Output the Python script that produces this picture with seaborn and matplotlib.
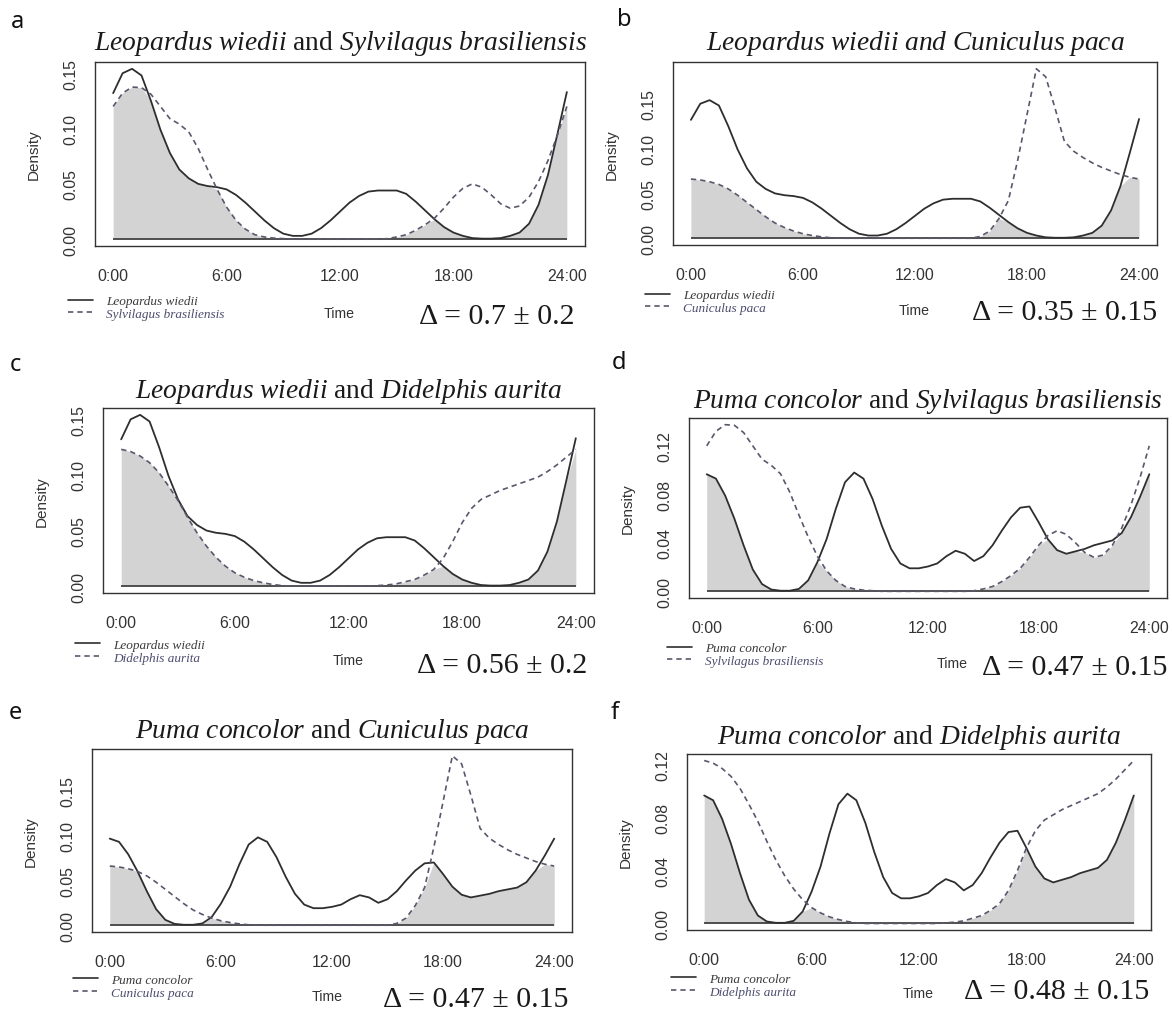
import numpy as np
import pandas as pd
import matplotlib
matplotlib.use("Agg")
import matplotlib.pyplot as plt
import seaborn as sns
from matplotlib.lines import Line2D
from matplotlib.font_manager import FontProperties

# ---------------- data (density per half hour, 0:00 .. 24:00) ----------------
hours = np.arange(0, 24.5, 0.5)

leopardus_wiedii = [0.132, 0.150, 0.154, 0.148, 0.125, 0.099, 0.078, 0.063, 0.055, 0.050,
                    0.048, 0.047, 0.045, 0.040, 0.033, 0.025, 0.017, 0.010, 0.005, 0.003,
                    0.003, 0.005, 0.010, 0.017, 0.025, 0.033, 0.039, 0.043, 0.044, 0.044,
                    0.044, 0.041, 0.034, 0.026, 0.018, 0.011, 0.006, 0.003, 0.001, 0.0005,
                    0.0005, 0.001, 0.003, 0.006, 0.014, 0.031, 0.058, 0.095, 0.133]

sylvilagus_brasiliensis = [0.120, 0.132, 0.1375, 0.137, 0.131, 0.120, 0.109, 0.104, 0.097, 0.082,
                           0.063, 0.045, 0.029, 0.017, 0.009, 0.004, 0.002, 0.001, 0.0005, 0.0,
                           0.0, 0.0, 0.0, 0.0, 0.0, 0.0, 0.0, 0.0, 0.0, 0.0005,
                           0.002, 0.004, 0.008, 0.013, 0.019, 0.028, 0.038, 0.046, 0.050, 0.047,
                           0.040, 0.032, 0.028, 0.030, 0.038, 0.052, 0.071, 0.094, 0.120]

cuniculus_paca = [0.066, 0.065, 0.063, 0.060, 0.055, 0.048, 0.040, 0.032, 0.024, 0.017,
                  0.012, 0.008, 0.005, 0.003, 0.0015, 0.0005, 0.0, 0.0, 0.0, 0.0,
                  0.0, 0.0, 0.0, 0.0, 0.0, 0.0, 0.0, 0.0, 0.0, 0.0,
                  0.0, 0.002, 0.008, 0.022, 0.042, 0.087, 0.138, 0.189, 0.180, 0.145,
                  0.108, 0.097, 0.090, 0.084, 0.079, 0.075, 0.071, 0.068, 0.066]

didelphis_aurita = [0.123, 0.121, 0.117, 0.111, 0.102, 0.090, 0.077, 0.062, 0.048, 0.036,
                    0.026, 0.018, 0.012, 0.008, 0.005, 0.003, 0.0015, 0.0005, 0.0, 0.0,
                    0.0, 0.0, 0.0, 0.0, 0.0, 0.0, 0.0, 0.0005, 0.001, 0.002,
                    0.004, 0.006, 0.010, 0.015, 0.025, 0.040, 0.057, 0.070, 0.078, 0.082,
                    0.086, 0.089, 0.092, 0.095, 0.098, 0.103, 0.109, 0.116, 0.123]

puma_concolor = [0.0966, 0.093, 0.079, 0.060, 0.038, 0.018, 0.006, 0.0015, 0.0005, 0.0005,
                 0.002, 0.009, 0.024, 0.043, 0.068, 0.090, 0.098, 0.093, 0.076, 0.054,
                 0.035, 0.023, 0.019, 0.019, 0.0205, 0.023, 0.029, 0.0335, 0.031, 0.025,
                 0.029, 0.038, 0.050, 0.061, 0.069, 0.070, 0.057, 0.043, 0.034, 0.031,
                 0.033, 0.035, 0.038, 0.040, 0.042, 0.048, 0.061, 0.078, 0.0966]

time_ticks = [0, 6, 12, 18, 24]
time_labels = ["0:00", "6:00", "12:00", "18:00", "24:00"]

species = {
    "Leopardus wiedii": leopardus_wiedii,
    "Sylvilagus brasiliensis": sylvilagus_brasiliensis,
    "Cuniculus paca": cuniculus_paca,
    "Didelphis aurita": didelphis_aurita,
    "Puma concolor": puma_concolor,
}

panel_letters = ["a", "b", "c", "d", "e", "f"]
panel_pairs = [("Leopardus wiedii", "Sylvilagus brasiliensis"),
               ("Leopardus wiedii", "Cuniculus paca"),
               ("Leopardus wiedii", "Didelphis aurita"),
               ("Puma concolor", "Sylvilagus brasiliensis"),
               ("Puma concolor", "Cuniculus paca"),
               ("Puma concolor", "Didelphis aurita")]
panel_titles = [r"$\mathit{Leopardus\ wiedii}$ and $\mathit{Sylvilagus\ brasiliensis}$",
                r"$\mathit{Leopardus\ wiedii\ and\ Cuniculus\ paca}$",
                r"$\mathit{Leopardus\ wiedii}$ and $\mathit{Didelphis\ aurita}$",
                r"$\mathit{Puma\ concolor}$ and $\mathit{Sylvilagus\ brasiliensis}$",
                r"$\mathit{Puma\ concolor}$ and $\mathit{Cuniculus\ paca}$",
                r"$\mathit{Puma\ concolor}$ and $\mathit{Didelphis\ aurita}$"]
overlap_labels = ["Δ = 0.7 ± 0.2", "Δ = 0.35 ± 0.15", "Δ = 0.56 ± 0.2",
                  "Δ = 0.47 ± 0.15", "Δ = 0.47 ± 0.15", "Δ = 0.48 ± 0.15"]
ytick_sets = ["05", "05", "05", "02", "05", "02"]

# ---------------- layout (pixels in a 1172 x 1012 image) ----------------
W, H = 1172, 1012
boxes = [(95, 63, 585, 247), (673, 63, 1157, 246),
         (103, 409, 594, 594), (689, 419, 1167, 599),
         (92, 750, 572, 933), (687, 755, 1151, 931)]
letter_pos = [(18, 22), (624, 20), (15, 365), (619, 363), (15, 713), (615, 713)]
delta_pos = [(497, 317), (1065, 313), (502, 666), (1075, 668), (476, 1000), (1057, 992)]
time_pos = [(339, 315), (914, 312), (348, 662), (952, 665), (327, 998), (918, 995)]
legend_pos = [(68, 308.5), (645, 302.5), (75, 652), (667, 655.5), (73, 987), (671, 986)]
title_pad = [9.5, 9.5, 8.0, 8.0, 8.5, 8.0]

sns.set_theme(style="white")
plt.rcParams["font.family"] = ["Liberation Sans", "DejaVu Sans"]
plt.rcParams["mathtext.fontset"] = "custom"
plt.rcParams["mathtext.it"] = "Liberation Serif:italic"
plt.rcParams["mathtext.rm"] = "Liberation Serif"

SOLID = "#2e2e2e"
DASH = "#58586c"
FILL = "#d3d3d3"

fig = plt.figure(figsize=(W / 100, H / 100), dpi=100)
fig.patch.set_facecolor("white")


def fx(x):
    return x / W


def fy(y):
    return 1 - y / H


for i in range(6):
    l, t, r, b = boxes[i]
    ax = fig.add_axes([fx(l), fy(b), (r - l) / W, (b - t) / H])
    pred_name, prey_name = panel_pairs[i]
    pred = np.array(species[pred_name])
    prey = np.array(species[prey_name])

    ymax = max(pred.max(), prey.max())
    ax.set_xlim(-0.04 * 24, 24 * 1.04)
    ax.set_ylim(-0.04 * ymax, 1.04 * ymax)

    ax.fill_between(hours, 0, np.minimum(pred, prey), color=FILL, lw=0, zorder=1)
    ax.hlines(0, hours[0], hours[-1], color="#444444", lw=1.3, zorder=2)
    sns.lineplot(x=hours, y=pred, ax=ax, color=SOLID, lw=1.3, zorder=3,
                 solid_joinstyle="round", solid_capstyle="round")
    sns.lineplot(x=hours, y=prey, ax=ax, color=DASH, lw=1.2, zorder=3,
                 linestyle=(0, (3.2, 2.4)), dash_joinstyle="round")

    # axes styling (R-like)
    for s in ax.spines.values():
        s.set_color("#333333")
        s.set_linewidth(1.0)
        s.set_visible(True)
    ax.set_facecolor("white")
    ax.grid(False)
    ax.tick_params(axis="both", direction="out", length=5.8, width=0.9,
                   color="#333333", labelcolor="#333333", labelsize=11.4)
    ax.tick_params(axis="x", pad=10)
    ax.tick_params(axis="y", pad=6)
    ax.set_xticks(time_ticks)
    ax.set_xticklabels(time_labels)
    if ytick_sets[i] == "05":
        yt = [0.0, 0.05, 0.10, 0.15]
        yl = ["0.00", "0.05", "0.10", "0.15"]
    else:
        yt = [0.0, 0.02, 0.04, 0.06, 0.08, 0.10, 0.12]
        yl = ["0.00", "", "0.04", "", "0.08", "", "0.12"]
    ax.set_yticks(yt)
    ax.set_yticklabels(yl, rotation=90, va="center")

    ax.set_ylabel("Density", fontsize=11, color="#333333")
    ax.yaxis.set_label_coords(fx(l - 54), fy((t + b) / 2), transform=fig.transFigure)
    ax.set_xlabel("Time", fontsize=10.2, color="#333333")
    ax.xaxis.set_label_coords(fx(time_pos[i][0]), fy(time_pos[i][1] - 8),
                              transform=fig.transFigure)

    ax.set_title(panel_titles[i], fontsize=19.8, family="Liberation Serif",
                 fontstyle="italic" if i == 1 else "normal", color="#1a1a1a",
                 pad=title_pad[i])

    ax.text(fx(delta_pos[i][0]), fy(delta_pos[i][1]), overlap_labels[i],
            transform=fig.transFigure, ha="center", va="center",
            family="Liberation Serif", fontsize=21.5, color="#1a1a1a")

    fig.text(fx(letter_pos[i][0]), fy(letter_pos[i][1]), panel_letters[i],
             ha="center", va="center", family="Noto Sans", fontsize=17, color="#111111")

    handles = [Line2D([], [], color=SOLID, lw=1.2),
               Line2D([], [], color=DASH, lw=1.2, linestyle=(0, (3.2, 2.4)))]
    leg = ax.legend(handles, [pred_name, prey_name], loc="center left",
                    bbox_to_anchor=(fx(legend_pos[i][0]), fy(legend_pos[i][1])),
                    bbox_transform=fig.transFigure, frameon=False, borderpad=0,
                    borderaxespad=0, handlelength=1.9, handletextpad=1.0,
                    labelspacing=0.05,
                    prop=FontProperties(family="Liberation Serif", style="italic", size=9.5))
    leg.get_texts()[0].set_color("#3a3a3a")
    leg.get_texts()[1].set_color("#4c4c6e")

fig.savefig("out.png", dpi=100, facecolor="white")
